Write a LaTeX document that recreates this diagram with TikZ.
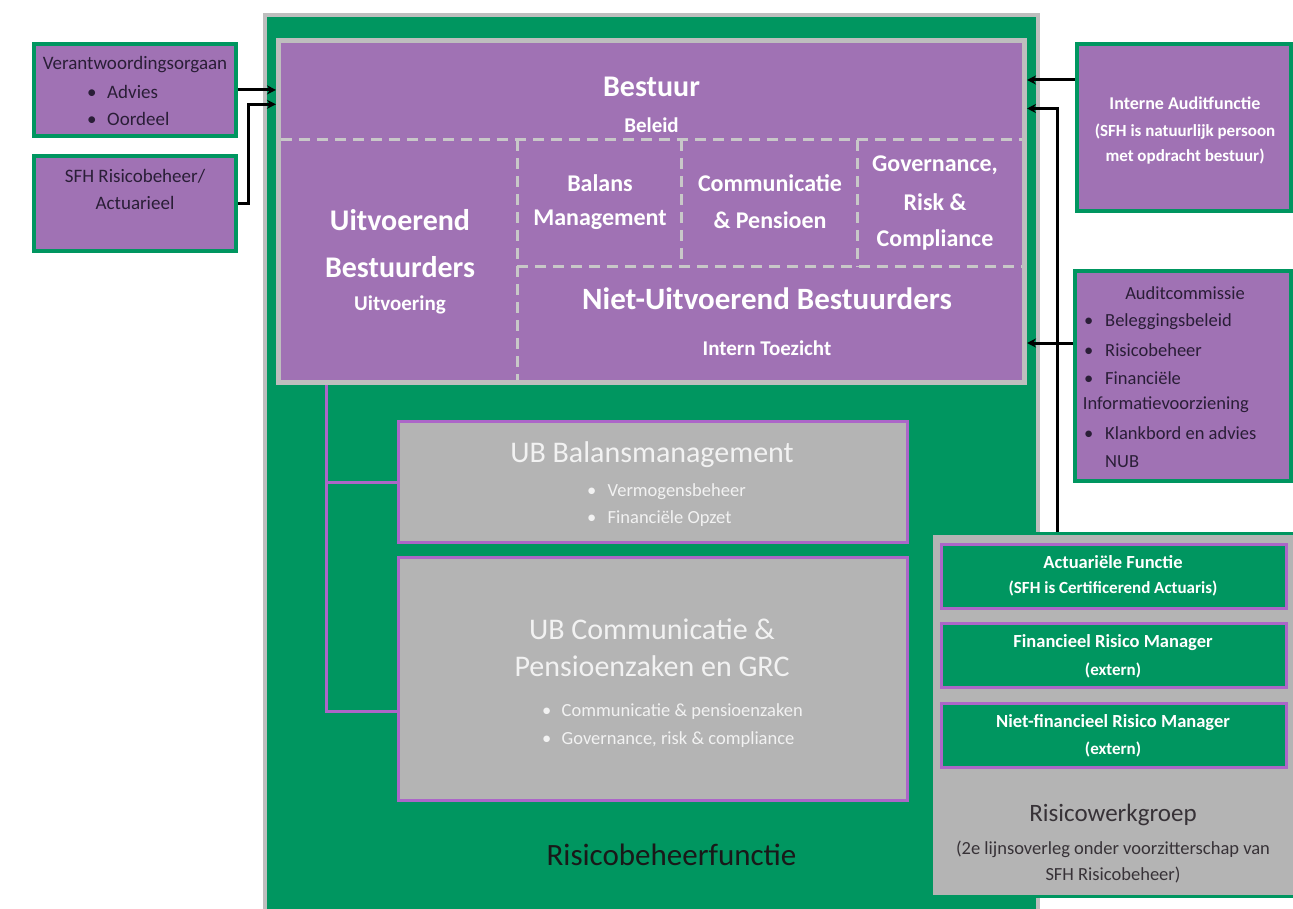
\documentclass[tikz,border=0pt]{standalone}
\usepackage{fontspec}
\setmainfont{Carlito}
\usetikzlibrary{arrows.meta}

\definecolor{fgreen}{RGB}{0,150,96}
\definecolor{bpurple}{RGB}{160,114,180}
\definecolor{rimgrey}{RGB}{190,190,190}
\definecolor{ugrey}{RGB}{180,180,180}
\definecolor{lpurple}{RGB}{172,102,200}
\definecolor{dashgrey}{RGB}{200,200,200}
\definecolor{darktxt}{RGB}{42,30,55}
\definecolor{rwtxt}{RGB}{55,50,55}
\definecolor{lighttxt}{RGB}{242,242,242}

\newcommand{\fz}[1]{\fontsize{#1}{#1}\selectfont}
\newcommand{\bulitem}[2]{\makebox[#1pt][l]{\textbullet}#2}

\begin{document}
\begin{tikzpicture}[
  x=1pt,y=-1pt,
  every node/.style={inner sep=0pt},
  rim/.style={draw=rimgrey,line width=4pt},
  board/.style={draw=rimgrey,line width=5pt,fill=bpurple},
  party/.style={draw=fgreen,line width=4pt,fill=bpurple},
  unit/.style={draw=lpurple,line width=3pt,fill=ugrey},
  role/.style={draw=lpurple,line width=3pt,fill=fgreen},
  crew/.style={draw=fgreen,line width=3pt,fill=ugrey},
  guide/.style={draw=dashgrey,line width=3pt,dash pattern=on 11pt off 7pt},
  branch/.style={draw=lpurple,line width=3pt},
  link/.style={draw=black,line width=3pt,-{Stealth[length=9pt,width=9pt]}},
  wb/.style={text=white},
  dark/.style={text=darktxt},
  light/.style={text=lighttxt}
]
  \useasboundingbox (0,0) rectangle (1293,909);

  % Green frame of the risk function
  \draw[rim,fill=fgreen] (265,15.5) rectangle (1038,930);

  % Board, split by dashed guides
  \node[board,minimum width=746pt,minimum height=342pt] (bestuur) at (651.5,211.5) {};
  \draw[guide] (281,140) -- (1022,140);
  \draw[guide] (517,140) -- (517,380);
  \draw[guide] (517,267) -- (1022,267);
  \draw[guide] (681,140) -- (681,267);
  \draw[guide] (857,140) -- (857,267);

  \node[wb,font=\fz{30}\bfseries] (bestuurt) at (651.5,86.7) {Bestuur};
  \node[wb,font=\fz{21}\bfseries] (beleidt) at (651.5,125) {Beleid};
  \node[wb,font=\fz{30}\bfseries] (uitvt1) at (400,220) {Uitvoerend};
  \node[wb,font=\fz{30}\bfseries] (uitvt2) at (400,266.7) {Bestuurders};
  \node[wb,font=\fz{21}\bfseries] (uitvt3) at (400,305) {Uitvoering};
  \node[wb,font=\fz{24}\bfseries] (balanst1) at (600,183.3) {Balans};
  \node[wb,font=\fz{24}\bfseries] (balanst2) at (600,220) {Management};
  \node[wb,font=\fz{24}\bfseries] (commt1) at (770,183.3) {Communicatie};
  \node[wb,font=\fz{24}\bfseries] (commt2) at (770,220) {\& Pensioen};
  \node[wb,font=\fz{24}\bfseries] (govt1) at (935,165) {Governance,};
  \node[wb,font=\fz{24}\bfseries] (govt2) at (935,201.7) {Risk \&};
  \node[wb,font=\fz{24}\bfseries] (govt3) at (935,240) {Compliance};
  \node[wb,font=\fz{31}\bfseries] (nubt1) at (767,298.3) {Niet-Uitvoerend Bestuurders};
  \node[wb,font=\fz{21}\bfseries] (nubt2) at (767,348.3) {Intern Toezicht};

  % Executive directors' units
  \node[unit,minimum width=509pt,minimum height=121pt] (ubb) at (653,482) {};
  \node[unit,minimum width=509pt,minimum height=243pt] (ubc) at (653,678.8) {};
  \coordinate (stem) at ([xshift=-325.5pt]bestuur.south);
  \draw[branch] (stem) |- ([yshift=-33pt]ubc.west);
  \draw[branch] (stem |- ubb.west) -- (ubb.west);

  \node[light,font=\fz{30}] (ubbt1) at (652,454.6) {UB Balansmanagement};
  \node[light,font=\fz{18.5},anchor=west] (ubbt2) at (587,491.9) {\bulitem{20.5}{Vermogensbeheer}};
  \node[light,font=\fz{18.5},anchor=west] (ubbt3) at (587,519) {\bulitem{20.5}{Financiële Opzet}};
  \node[light,font=\fz{30}] (ubct1) at (652,629) {UB Communicatie \&};
  \node[light,font=\fz{30}] (ubct2) at (652,666.4) {Pensioenzaken en GRC};
  \node[light,font=\fz{18.5},anchor=west] (ubct3) at (542,712) {\bulitem{19.5}{Communicatie \& pensioenzaken}};
  \node[light,font=\fz{18.5},anchor=west] (ubct4) at (542,740) {\bulitem{19.5}{Governance, risk \& compliance}};

  \node[text=black!90,font=\fz{31}] (risicot) at (671.5,854.6) {Risicobeheerfunctie};

  % Parties on the left
  \node[party,minimum width=202pt,minimum height=92pt] (vo) at (135,89.9) {};
  \node[dark,font=\fz{19}] (vot1) at (135,65) {Verantwoordingsorgaan};
  \node[dark,font=\fz{19},anchor=west] (vot2) at (87,91.7) {\bulitem{20}{Advies}};
  \node[dark,font=\fz{19},anchor=west] (vot3) at (87,119) {\bulitem{20}{Oordeel}};
  \node[party,minimum width=202pt,minimum height=95pt] (sfh) at (135,203.5) {};
  \node[dark,font=\fz{19}] (sfht1) at (135,176.7) {SFH Risicobeheer/};
  \node[dark,font=\fz{19}] (sfht2) at (135,202.7) {Actuarieel};

  % Parties on the right
  \node[party,minimum width=214pt,minimum height=167pt] (iaf) at (1183.8,127.5) {};
  \node[wb,font=\fz{18}\bfseries] (iaft1) at (1185,103.3) {Interne Auditfunctie};
  \node[wb,font=\fz{17}\bfseries] (iaft2) at (1185,131.7) {(SFH is natuurlijk persoon};
  \node[wb,font=\fz{17}\bfseries] (iaft3) at (1185,156.7) {met opdracht bestuur)};

  \node[party,minimum width=216pt,minimum height=210pt] (ac) at (1183,376) {};
  \node[dark,font=\fz{18.5}] (act1) at (1185,293.3) {Auditcommissie};
  \node[dark,font=\fz{18.5},anchor=west] (act2) at (1084,321.7) {\bulitem{21}{Beleggingsbeleid}};
  \node[dark,font=\fz{18.5},anchor=west] (act3) at (1084,350) {\bulitem{21}{Risicobeheer}};
  \node[dark,font=\fz{18.5},anchor=west] (act4) at (1084,378.3) {\bulitem{21}{Financiële}};
  \node[dark,font=\fz{18.5},anchor=west] (act5) at (1082.7,405) {Informatievoorziening};
  \node[dark,font=\fz{18.5},anchor=west] (act6) at (1084,433.3) {\bulitem{21}{Klankbord en advies}};
  \node[dark,font=\fz{18.5},anchor=west] (act7) at (1105,461.7) {NUB};

  % Risk working group with its functions
  \node[crew,minimum width=363pt,minimum height=363pt] (rw) at (1113,715) {};
  \node[role,minimum width=345pt,minimum height=64pt] (af) at (1114,576.2) {};
  \node[wb,font=\fz{18.5}\bfseries] (aft1) at (1113,561.7) {Actuariële Functie};
  \node[wb,font=\fz{17}\bfseries] (aft2) at (1113,588.3) {(SFH is Certificerend Actuaris)};
  \node[role,minimum width=345pt,minimum height=64pt] (frm) at (1114,655.8) {};
  \node[wb,font=\fz{18.5}\bfseries] (frmt1) at (1113,642.7) {Financieel Risico Manager};
  \node[wb,font=\fz{17}\bfseries] (frmt2) at (1113,670) {(extern)};
  \node[role,minimum width=345pt,minimum height=64pt] (nfrm) at (1114,735) {};
  \node[wb,font=\fz{18.5}\bfseries] (nfrmt1) at (1113,722.3) {Niet-financieel Risico Manager};
  \node[wb,font=\fz{17}\bfseries] (nfrmt2) at (1113,749.3) {(extern)};
  \node[text=rwtxt,font=\fz{25}] (rwt1) at (1113,815) {Risicowerkgroep};
  \node[text=rwtxt,font=\fz{18.5}] (rwt2) at (1113,849.3) {(2e lijnsoverleg onder voorzitterschap van};
  \node[text=rwtxt,font=\fz{18.5}] (rwt3) at (1113,875) {SFH Risicobeheer)};

  % Reporting lines
  \draw[link] (vo.east) -- (vo.east -| bestuur.west);
  \draw[link] (sfh.east) -- ++(10,0) |- ([yshift=107.2pt]bestuur.west);
  \coordinate (iafout) at ([yshift=47.5pt]iaf.west);
  \draw[link] (iafout) -- (iafout -| bestuur.east);
  \draw[link] ([xshift=127pt]rw.north west) |- ([yshift=103pt]bestuur.east);
  \coordinate (acout) at ([yshift=33pt]ac.west);
  \draw[link] (acout) -- (acout -| bestuur.east);
\end{tikzpicture}
\end{document}
